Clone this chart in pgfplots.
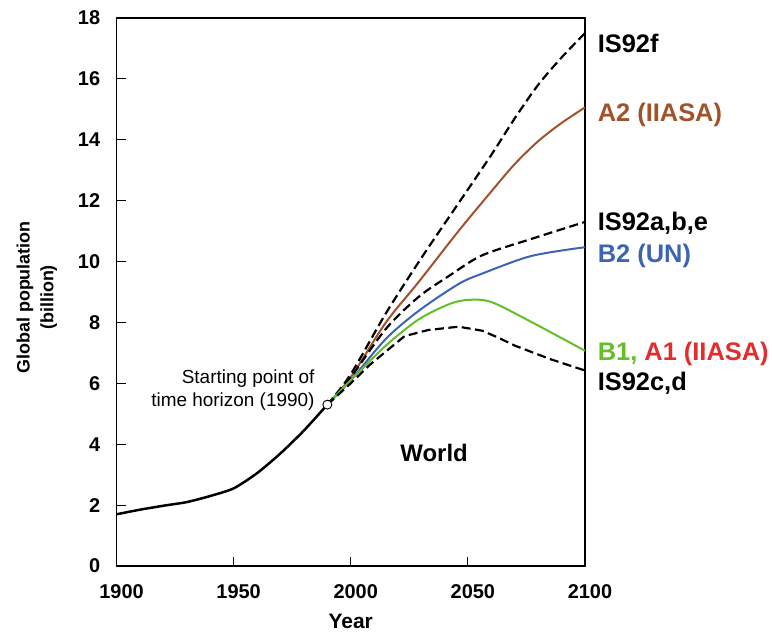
\documentclass[border=0pt]{standalone}
\usepackage{pgfplots}
\pgfplotsset{compat=1.18}
\usepackage{fontspec}
\setmainfont{Liberation Sans}
\definecolor{cbrown}{RGB}{160,82,42}
\definecolor{cblue}{RGB}{60,100,180}
\definecolor{cgreen}{RGB}{100,190,40}
\definecolor{cred}{RGB}{225,45,45}
\begin{document}
\begin{tikzpicture}
\begin{axis}[
    width=470pt, height=550pt,
    scale only axis,
    xmin=1900, xmax=2100,
    ymin=0, ymax=18,
    xtick={1900,1950,2000,2050,2100},
    ytick={0,2,...,18},
    tick align=inside,
    xtick pos=bottom, ytick pos=left,
    major tick length=9pt,
    tick style={line width=1.2pt, black},
    axis line style={line width=1.2pt},
    /pgf/number format/assume math mode=true,
    /pgf/number format/1000 sep={},
    ticklabel style={font=\fontsize{20}{23}\selectfont\bfseries},
    xticklabel style={yshift=-15pt, xshift=5pt},
    yticklabel style={xshift=-13pt},
    xlabel={\textbf{Year}},
    xlabel style={font=\fontsize{21}{24}\selectfont, at={(axis description cs:0.5,0)}, anchor=center, yshift=-56pt},
    ylabel={\textbf{Global population}\\\textbf{(billion)}},
    ylabel style={font=\fontsize{18}{24}\selectfont, align=center, at={(axis description cs:0,0.49)}, anchor=center, yshift=80pt},
    clip=false,
]
% history
\addplot[black, line width=2.5pt, smooth, tension=0.4] coordinates {
(1900,1.7) (1910,1.85) (1920,1.98) (1930,2.1) (1940,2.3) (1950,2.55)
(1960,3.05) (1970,3.7) (1980,4.45) (1990,5.3)};
% IS92f
\addplot[black, line width=2.2pt, dash pattern=on 9pt off 4.5pt, smooth] coordinates {
(1990,5.3) (2000,6.3) (2015,8.3) (2030,10.1) (2045,11.8) (2060,13.5)
(2070,14.7) (2080,15.8) (2090,16.7) (2100,17.5)};
% A2
\addplot[cbrown, line width=2pt, smooth] coordinates {
(1990,5.3) (2000,6.2) (2015,8.0) (2029,9.33) (2046,11.0) (2060,12.3)
(2070,13.2) (2080,13.95) (2090,14.55) (2100,15.06)};
% IS92a,b,e
\addplot[black, line width=2.2pt, dash pattern=on 9pt off 4.5pt, smooth] coordinates {
(1990,5.3) (2000,6.2) (2015,7.79) (2029,8.84) (2042,9.53) (2056,10.2)
(2077,10.74) (2100,11.3)};
% B2
\addplot[cblue, line width=2pt, smooth] coordinates {
(1990,5.3) (2000,6.1) (2015,7.46) (2029,8.38) (2046,9.26) (2056,9.6)
(2077,10.18) (2100,10.47)};
% B1
\addplot[cgreen, line width=2pt, smooth] coordinates {
(1990,5.3) (2000,6.1) (2015,7.24) (2029,8.1) (2042,8.6) (2050,8.74)
(2060,8.67) (2077,8.02) (2100,7.07)};
% IS92c,d
\addplot[black, line width=2.2pt, dash pattern=on 9pt off 4.5pt] coordinates {
(1990,5.3) (2000,6.0) (2008,6.6) (2019,7.3) (2023,7.55) (2033,7.75)
(2046,7.86) (2056,7.73) (2063,7.5) (2070,7.24) (2085,6.8) (2100,6.42)};
% starting point
\addplot[only marks, mark=*, mark size=4.5pt, mark options={fill=white, draw=black, line width=0.9pt}] coordinates {(1990,5.3)};

\node[anchor=east, align=right, font=\fontsize{19}{23}\selectfont] at (axis cs:1986,5.78) {Starting point of\\time horizon (1990)};
\node[font=\fontsize{24}{28}\selectfont\bfseries] at (axis cs:2035.6,3.7) {World};

\begin{scope}[every node/.style={anchor=west, font=\fontsize{25.5}{29}\selectfont\bfseries}]
\node at (axis cs:2104,17.15) {IS92f};
\node[text=cbrown] at (axis cs:2104,14.8) {A2 (IIASA)};
\node at (axis cs:2104,11.25) {IS92a,b,e};
\node[text=cblue] at (axis cs:2104,10.2) {B2 (UN)};
\node at (axis cs:2104,6.95) {\textcolor{cgreen}{B1,} \textcolor{cred}{A1 (IIASA)}};
\node at (axis cs:2104,6.0) {IS92c,d};
\end{scope}
% picture margins as in the reference
\path (rel axis cs:0,0) ++(-117pt,-60pt);
\path (rel axis cs:1,1) ++(186pt,18pt);
\end{axis}
\end{tikzpicture}
\end{document}
